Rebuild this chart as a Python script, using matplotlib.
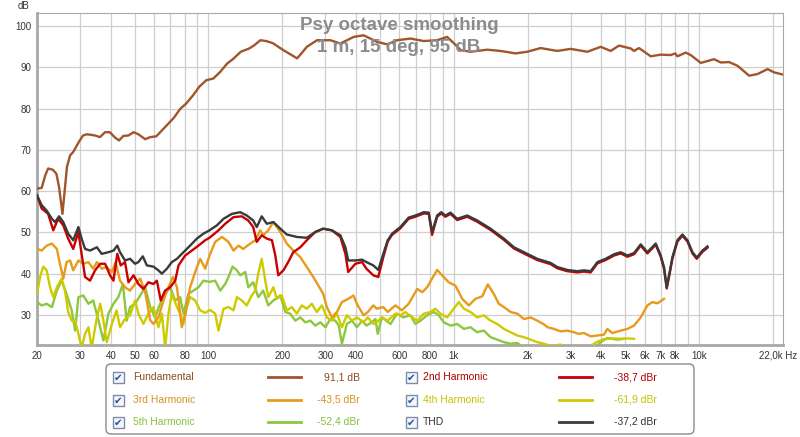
import matplotlib
matplotlib.use("Agg")
import matplotlib.pyplot as plt
from matplotlib.patches import FancyBboxPatch, Rectangle

plt.rcParams['font.family'] = ['Liberation Sans', 'DejaVu Sans']

# ---- data (Hz, dB) ----
fund_f = [20, 20.9, 21.6, 22.2, 23.2, 24.0, 24.6, 25.4, 26.5, 27.3, 28.1, 29.6, 30.8, 32.0,
          34.5, 36.1, 37.9, 39.6, 41.6, 43.2, 45.0, 47.2, 49.5, 51.8, 55.2, 57.9, 61.3, 63.6,
          67.7, 72.3, 76.8, 81, 86.7, 92, 98, 104.6, 111.6, 119, 126.9, 135.4, 146.7, 153.9,
          162.9, 171.9, 182.8, 202, 230, 252, 277, 314, 345, 391, 429, 487, 535, 588, 666,
          755, 856, 940, 1033, 1066, 1171, 1370, 1552, 1787, 1994, 2260, 2644, 2996, 3506,
          3972, 4364, 4718, 5267, 5434, 5694, 6356, 6982, 7670, 8000, 8166, 8830, 9256,
          10168, 11520, 12270, 13264, 14352, 16012, 17324, 19030, 20245, 21900]
fund_db = [60.6, 60.8, 63.8, 65.5, 65.2, 64.2, 61.0, 54.5, 65.9, 68.7, 69.5, 71.9, 73.5, 73.8,
           73.5, 73.1, 74.3, 74.3, 73.0, 72.3, 73.4, 73.5, 74.3, 73.8, 72.6, 73.1, 73.3, 74.3,
           76.0, 77.8, 80.0, 81.2, 83.3, 85.4, 86.9, 87.3, 88.9, 90.9, 92.2, 93.8, 94.6, 95.4,
           96.6, 96.4, 95.9, 94.2, 92.2, 95.0, 96.6, 96.6, 95.8, 97.4, 97.8, 96.2, 95.6, 96.6, 97.0,
           96.4, 96.6, 97.4, 95.1, 94.2, 93.8, 94.3, 94.0, 93.4, 93.8, 94.7, 94.0, 94.5, 93.8,
           95.0, 94.0, 95.3, 94.6, 94.0, 94.7, 92.7, 93.1, 93.0, 93.4, 92.7, 93.6, 93.0,
           91.1, 92.0, 91.2, 91.3, 90.4, 88.0, 88.4, 89.6, 88.8, 88.3]

h2_f = [20, 20.9, 22.2, 23.3, 24.4, 25.6, 26.8, 28.1, 29.5, 30.4, 31.4, 32.9, 34.5, 36.2,
        37.9, 39.7, 41.0, 42.5, 43.9, 45.7, 47.2, 49.5, 51.8, 54.3, 56.9, 59.7, 61.6, 63.9,
        66.6, 69.8, 73.2, 75.5, 80.4, 85.6, 91.1, 97.0, 101, 109.9, 117.1, 126.5, 136.7,
        145.3, 152.2, 157.4, 164.9, 172.9, 181.5, 187.3, 192.6, 202, 211.4, 221.7, 236.9,
        251.8, 272.7, 293.8, 318.6, 345, 361.7, 371.4, 397.2, 423, 440.7, 469.8, 492.6,
        516.3, 538.1, 560.6, 606, 655, 698, 755, 791, 816, 856, 889, 925, 970, 1033, 1135,
        1246, 1413, 1601, 1760, 1994, 2191, 2484, 2644, 2904, 3188, 3396, 3617, 3853, 4160,
        4505, 4794, 5106, 5434, 5785, 6160, 6660, 6982, 7202, 7386, 7600, 7792, 8166, 8560,
        8972, 9404, 9793, 10332, 10828]
h2_db = [59.0, 55.8, 54.5, 50.5, 53.3, 51.7, 48.5, 46.0, 50.1, 44.8, 39.2, 38.3, 40.8, 42.4,
         42.4, 39.6, 38.3, 44.8, 42.0, 42.8, 37.9, 39.6, 37.5, 36.3, 37.9, 37.5, 38.3, 33.5,
         35.9, 36.7, 38.3, 42.0, 44.4, 45.6, 46.8, 48.1, 48.7, 50.5, 52.1, 53.7, 53.9,
         52.9, 51.3, 47.7, 49.3, 48.5, 48.1, 44.4, 39.6, 40.8, 42.8, 45.2, 46.4,
         48.1, 50.1, 50.9, 50.5, 48.9, 44.8, 40.4, 42.4, 42.8, 41.2, 39.6, 39.2,
         44.0, 47.8, 49.4, 51.0, 53.3, 53.8, 54.6, 54.5, 49.4, 53.8, 54.6, 53.8, 54.5, 53.0, 53.8,
         52.6, 50.6, 48.2, 46.1, 44.5, 43.3, 42.3, 41.3, 40.6, 40.3, 40.5, 40.3, 42.5, 43.3,
         44.4, 44.9, 44.1, 44.7, 46.8, 44.9, 47.0, 44.1, 41.2, 36.4, 40.2, 43.7, 47.8, 49.2,
         47.8, 44.9, 43.6, 45.3, 46.3]

h3_f = [20, 20.9, 21.9, 23.0, 24.1, 24.8, 25.6, 26.4, 27.3, 28.1, 29.5, 30.9, 32.4, 33.9,
        35.1, 36.7, 38.5, 40.4, 41.8, 43.6, 45.7, 47.9, 50.2, 52.7, 55.2, 57.9, 59.7, 62.5,
        65.6, 68.7, 71.6, 74.4, 77.9, 80.4, 84.2, 88.3, 92.5, 97.0, 101.6, 106.5, 113.5,
        120.7, 126.5, 132.5, 138.6, 148.1, 155.2, 162.7, 167.2, 175.3, 184.0, 196.3, 208.6,
        221.7, 236.9, 251.8, 267.5, 285.9, 293.8, 303.9, 318.6, 333.8, 350, 371.4, 390.5,
        402.7, 428.9, 446.5, 469.8, 486, 516.3, 538.1, 578.4, 614.5, 655, 710, 744, 779, 816,
        856, 897, 954, 1016, 1083, 1152, 1227, 1307, 1377, 1457, 1527, 1601, 1705, 1816,
        1932, 2057, 2191, 2332, 2412, 2563, 2728, 2904, 3090, 3236, 3396, 3617, 3853, 4097,
        4227, 4435, 4794, 5106, 5434, 5785, 6160, 6458, 6770, 7202]
h3_db = [46.0, 45.6, 46.8, 47.3, 46.0, 42.4, 38.8, 42.8, 43.2, 40.8, 43.2, 42.4, 42.8, 41.2,
         42.8, 41.2, 41.6, 40.4, 42.8, 38.3, 36.7, 35.9, 37.5, 38.8, 35.5, 28.7, 27.8, 29.4,
         33.5, 36.7, 39.2, 36.7, 27.0, 30.3, 36.7, 40.4, 43.6, 41.2, 44.8, 47.7, 48.9,
         47.7, 45.6, 46.8, 46.0, 47.3, 48.1, 50.5, 49.3, 50.5, 52.5, 50.1, 47.3,
         45.6, 44.0, 41.6, 39.2, 36.3, 35.1, 31.9, 29.4, 30.7, 33.1, 33.9, 34.7,
         32.7, 29.9, 30.7, 32.3, 31.5, 31.9, 30.7, 32.3, 31.1, 32.7, 36.3, 35.5, 36.7, 38.8,
         40.9, 39.6, 37.9, 37.1, 33.9, 32.3, 33.9, 34.5, 37.4, 35.1, 32.7, 31.9, 30.7, 30.3,
         29.0, 29.4, 28.6, 27.7, 27.0, 26.6, 26.0, 26.2, 25.8, 25.4, 25.6, 24.8, 25.0, 25.2,
         26.6, 25.6, 26.2, 26.6, 27.4, 29.4, 32.3, 33.1, 32.8, 33.9]

h4_f = [20, 20.6, 21.2, 21.9, 22.6, 23.3, 24.1, 25.2, 26.0, 26.8, 27.7, 28.6, 29.5, 30.4,
        31.4, 32.4, 33.4, 35.1, 36.2, 37.3, 38.5, 40.4, 42.2, 43.6, 45.7, 47.9, 50.2, 51.8,
        54.3, 56.9, 59.7, 62.5, 64.6, 66.6, 68.7, 70.9, 74.4, 76.7, 79.1, 81.7, 84.2, 88.3,
        92.5, 97.0, 101.6, 106.5, 109.9, 115.2, 120.7, 126.5, 130.7, 136.7, 143.3, 150.1,
        155.2, 159.6, 164.9, 170.5, 175.3, 184.0, 189.9, 199, 208.6, 218.7, 229.2, 240.3,
        251.8, 263.9, 276.6, 289.9, 303.9, 318.6, 333.8, 350, 366.7, 385.1, 402.7, 428.9,
        446.5, 469.8, 486, 509.3, 538.1, 578.4, 606, 635, 677, 710, 755, 804, 842, 883, 940,
        1000, 1049, 1100, 1171, 1246, 1327, 1413, 1504, 1601, 1705, 1816, 1932, 2057, 2191,
        2332, 2484, 2728, 3000, 3400, 3853, 4097, 4435, 4794, 5106, 5434]
h4_db = [35.1, 39.2, 41.7, 40.8, 36.7, 34.3, 36.7, 38.8, 35.9, 30.7, 28.6, 28.6, 25.4, 22.0,
         25.4, 27.0, 22.0, 29.4, 32.7, 28.6, 23.4, 27.8, 31.1, 27.0, 29.0, 29.9, 33.5, 30.3,
         27.8, 30.3, 31.9, 27.0, 30.3, 22.0, 30.3, 35.1, 31.9, 30.3, 27.8, 31.9, 34.3, 33.5,
         31.1, 30.5, 31.2, 30.3, 26.2, 31.5, 31.9, 31.1, 34.3, 33.5, 32.3, 34.7,
         35.9, 40.0, 43.6, 38.3, 34.3, 36.7, 33.9, 34.7, 31.1, 31.9, 30.3, 32.3,
         31.5, 32.7, 30.7, 32.3, 29.4, 28.6, 30.3, 27.0, 29.9, 28.6, 29.4, 28.2,
         29.4, 27.8, 28.2, 29.4, 28.6, 30.3, 29.9, 30.7, 29.4, 28.6, 30.3, 30.7, 31.5, 30.3, 29.4,
         31.5, 33.1, 31.5, 30.7, 29.4, 29.9, 28.6, 27.8, 26.6, 25.8, 25.0, 24.6, 24.0, 23.4,
         23.0, 22.5, 22.8, 21.5, 21.5, 23.5, 24.1, 24.3, 24.2, 24.3, 24.2]

h5_f = [20, 20.9, 21.9, 23.0, 24.1, 25.2, 26.4, 27.7, 28.6, 29.5, 30.9, 32.4, 33.9, 35.6,
        37.3, 39.1, 41.0, 42.9, 44.8, 46.4, 47.9, 50.2, 52.7, 55.2, 57.9, 60.6, 63.5, 66.6,
        69.8, 73.2, 76.7, 79.1, 82.9, 86.9, 91.1, 95.4, 101, 106.5, 111.7, 117.1, 120.7,
        125.4, 130.7, 134.8, 141.3, 145.3, 152.2, 159.6, 167.2, 175.3, 184.0, 196.3, 205.7,
        215.6, 226, 236.9, 248.3, 260.2, 272.7, 285.9, 299.7, 314.1, 329.2, 340, 350, 366.7,
        385.1, 402.7, 423, 440.7, 463.6, 479.4, 490, 509.3, 530.9, 553, 586.5, 623, 666, 698,
        732, 779, 829, 869, 911, 970, 1033, 1100, 1171, 1246, 1327, 1413, 1504, 1601, 1705,
        1816, 1932, 2200, 3000, 3700, 3972, 4227, 4646, 4950]
h5_db = [33.1, 32.3, 32.7, 31.9, 35.9, 38.3, 35.1, 31.1, 26.2, 34.3, 34.7, 32.7, 33.5, 28.7,
         23.8, 30.3, 32.7, 34.3, 37.5, 28.6, 31.9, 32.7, 34.7, 36.7, 31.9, 29.4, 32.7, 35.1,
         36.7, 33.5, 34.3, 30.3, 35.1, 35.9, 36.7, 38.3, 38.0, 38.3, 35.9, 37.5, 39.2,
         41.7, 40.8, 39.6, 40.4, 36.7, 37.9, 34.3, 35.9, 32.3, 33.5, 34.7, 30.7,
         30.3, 28.6, 29.4, 28.2, 28.6, 27.4, 28.2, 27.0, 29.0, 28.6, 27.4, 23.0, 27.8,
         28.6, 27.0, 28.6, 27.4, 28.2, 29.0, 25.4, 29.4, 28.6, 27.8, 30.3, 29.4, 29.9, 27.8,
         28.6, 29.9, 30.7, 29.9, 28.2, 27.4, 27.8, 26.6, 27.0, 25.8, 26.2, 24.6, 24.0, 23.4, 23.0,
         23.2, 22.0, 21.0, 21.0, 21.5, 23.4, 24.4, 24.0, 24.2]

thd_f = [20, 20.9, 21.9, 23.0, 23.7, 24.6, 25.6, 26.8, 28.1, 29.5, 30.4, 31.4, 32.9, 35.1,
         36.7, 39.1, 41.0, 42.5, 43.6, 45.7, 47.9, 50.2, 51.8, 54.0, 56.1, 59.7, 62.5, 64.6,
         67.7, 70.9, 74.4, 79.1, 84.2, 89.7, 95.4, 101, 108.2, 115.2, 124.7, 134.8, 143.3,
         152.2, 157.4, 164.9, 172.9, 184.0, 196.3, 208.6, 229.2, 251.8, 272.7, 293.8, 318.6,
         345, 361.7, 371.4, 397.2, 423, 440.7, 469.8, 492.6, 516.3, 538.1, 560.6, 606, 655,
         698, 755, 791, 816, 856, 889, 925, 970, 1033, 1135, 1246, 1413, 1601, 1760, 1994,
         2191, 2484, 2644, 2904, 3188, 3396, 3617, 3853, 4160, 4505, 4794, 5106, 5434, 5785,
         6160, 6660, 6982, 7202, 7386, 7600, 7792, 8166, 8560, 8972, 9404, 9793, 10332, 10828]
thd_db = [59.0, 56.6, 55.3, 53.3, 52.5, 53.9, 52.5, 49.7, 48.1, 51.3, 48.5, 46.0, 45.6, 46.4,
          44.8, 45.2, 45.6, 46.8, 45.2, 43.2, 43.6, 42.4, 42.8, 44.2, 42.0, 41.7, 40.8, 40.0,
          41.2, 42.8, 43.6, 45.2, 46.8, 48.5, 49.7, 50.5, 51.7, 53.3, 54.5, 54.9, 54.1,
          52.9, 51.3, 53.9, 52.1, 52.5, 50.9, 49.5, 48.9, 48.7, 50.1, 50.9, 50.5,
          49.3, 46.4, 43.2, 43.2, 43.4, 42.8, 42.0, 40.9, 44.8, 48.1, 49.7, 51.3, 53.6,
          54.1, 54.9, 54.8, 50.1, 54.1, 54.9, 54.1, 54.8, 53.3, 54.1, 52.9, 50.9, 48.5, 46.4, 44.8,
          43.6, 42.6, 41.6, 40.9, 40.6, 40.8, 40.6, 42.8, 43.6, 44.7, 45.2, 44.4, 45.0, 47.1,
          45.2, 47.3, 44.4, 41.5, 36.7, 40.5, 44.0, 48.1, 49.5, 48.1, 45.2, 43.9, 45.6, 46.6]

names = ["Fundamental", "2nd Harmonic", "3rd Harmonic", "4th Harmonic", "5th Harmonic", "THD"]
readouts = ["91,1 dB", "-38,7 dBr", "-43,5 dBr", "-61,9 dBr", "-52,4 dBr", "-37,2 dBr"]
colors = ["#A0552A", "#C80000", "#E89A1A", "#CDCB00", "#8DC63F", "#3A3A3A"]
text_colors = ["#8B4A1E", "#B00000", "#D8901E", "#C4C200", "#86C03A", "#333333"]

xticks = [20, 30, 40, 50, 60, 80, 100, 200, 300, 400, 600, 800, 1000, 2000, 3000, 4000,
          5000, 6000, 7000, 8000, 10000]
xlabels = ["20", "30", "40", "50", "60", "80", "100", "200", "300", "400", "600", "800", "1k",
           "2k", "3k", "4k", "5k", "6k", "7k", "8k", "10k"]
xgrid = [30, 40, 50, 60, 70, 80, 90, 100, 200, 300, 400, 500, 600, 700, 800, 900, 1000,
         2000, 3000, 4000, 5000, 6000, 7000, 8000, 9000, 10000, 20000]
yticks = [30, 40, 50, 60, 70, 80, 90, 100]

fig = plt.figure(figsize=(8, 4.37), dpi=100)
ax = fig.add_axes([37 / 800, 1 - 345 / 437, 746 / 800, 332 / 437])
ax.set_xscale('log')
ax.set_xlim(20, 22000)
ax.set_ylim(22.7, 103.2)

for g in xgrid:
    ax.axvline(g, color="#CFCFCF", lw=0.9, zorder=0)
for g in yticks:
    ax.axhline(g, color="#CFCFCF", lw=0.9, zorder=0)

curves = [(fund_f, fund_db), (h2_f, h2_db), (h3_f, h3_db), (h4_f, h4_db), (h5_f, h5_db), (thd_f, thd_db)]
order = [0, 4, 3, 2, 1, 5]
for i in order:
    f, d = curves[i]
    ax.plot(f, d, color=colors[i], lw=1.7, zorder=3 + order.index(i), solid_joinstyle='round')

ax.set_xticks(xticks)
ax.set_xticklabels(xlabels)
ax.xaxis.set_minor_locator(matplotlib.ticker.NullLocator())
ax.set_yticks(yticks)
ax.tick_params(length=0, labelsize=7, colors="#333333")
ax.tick_params(axis='x', pad=4)
ax.tick_params(axis='y', pad=4)
for s in ax.spines.values():
    s.set_color("#A8A8A8")
ax.spines['left'].set_linewidth(2)
ax.spines['bottom'].set_linewidth(2)

# last frequency label sits past the right edge of the plot, as in the reference
fig.text(778 / 800, 1 - 358 / 437, "22,0k Hz", ha='center', va='baseline', fontsize=7, color="#333333")
fig.text(24 / 800, 1 - 9 / 437, "dB", ha='center', va='baseline', fontsize=7, color="#333333")
fig.text(399 / 800, 1 - 30 / 437, "Psy octave smoothing", ha='center', va='baseline',
         fontsize=13.5, fontweight='bold', color="#8C8C8C", zorder=10)
fig.text(399 / 800, 1 - 51.5 / 437, "1 m, 15 deg, 95 dB", ha='center', va='baseline',
         fontsize=13.5, fontweight='bold', color="#8C8C8C", zorder=10)

# legend panel in pixel coordinates
lg = fig.add_axes([105 / 800, 1 - 435 / 437, 590 / 800, 72 / 437])
lg.set_xlim(0, 590)
lg.set_ylim(72, 0)
lg.axis('off')
lg.add_patch(FancyBboxPatch((1, 1), 588, 70, boxstyle="round,pad=0,rounding_size=5",
                            fc="white", ec="#8A8A8A", lw=1))
rows = [14, 37, 59]
cols = [(8, 28, 163, 196, 255), (301, 318, 454, 487, 552)]
for k in range(6):
    ry = rows[k // 2]
    cb, lx, l0, l1, vx = cols[k % 2]
    lg.add_patch(Rectangle((cb, ry - 5.5), 11, 11, fc="#F4F6FA", ec="#7F8CA6", lw=1))
    lg.text(cb + 5.5, ry + 0.5, "\u2714", ha='center', va='center', fontsize=7.5,
            color="#2255AA", family='DejaVu Sans')
    lg.text(lx, ry, names[k], ha='left', va='center', fontsize=7.5, color=text_colors[k])
    lg.plot([l0, l1], [ry, ry], color=colors[k], lw=2)
    lg.text(vx, ry, readouts[k], ha='right', va='center', fontsize=7.5, color=text_colors[k])

fig.savefig("out.png", dpi=100)
